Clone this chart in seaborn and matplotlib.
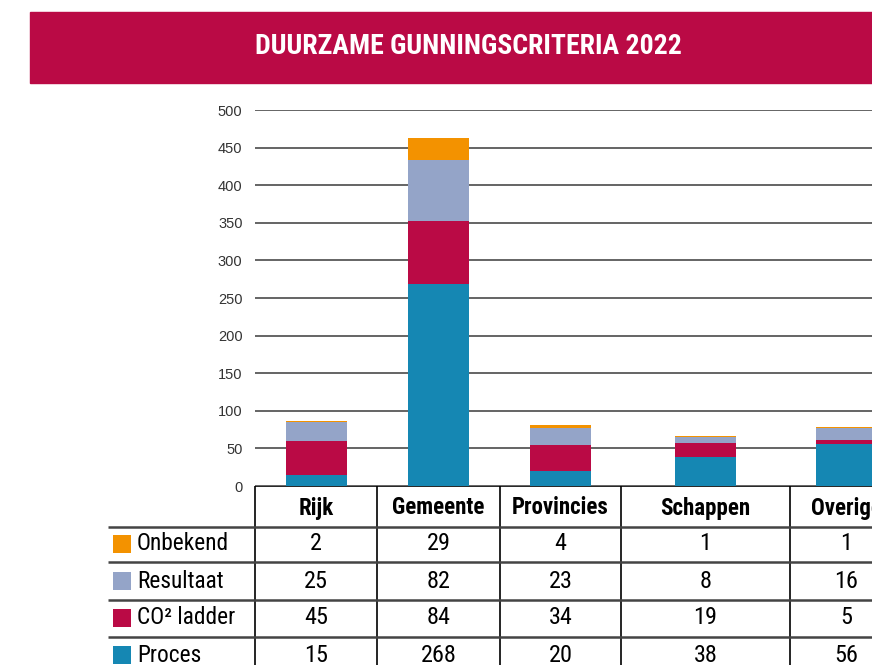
import matplotlib
matplotlib.use("Agg")
import matplotlib.pyplot as plt
from matplotlib.patches import Rectangle
import seaborn as sns

# data
categories = ["Rijk", "Gemeente", "Provincies", "Schappen", "Overige"]
series_names = ["Onbekend", "Resultaat", "CO² ladder", "Proces"]
onbekend = [2, 29, 4, 1, 1]
resultaat = [25, 82, 23, 8, 16]
co2_ladder = [45, 84, 34, 19, 5]
proces = [15, 268, 20, 38, 56]
y_ticks = [0, 50, 100, 150, 200, 250, 300, 350, 400, 450, 500]

colors = ["#F39200", "#94A4C8", "#BA0A45", "#1587B3"]
crimson = "#BA0A45"

W, H = 872, 665
sns.set_theme(style="white")
cond = ['Roboto Condensed', 'Asap Condensed', 'DejaVu Sans']
plt.rcParams['font.family'] = cond

fig = plt.figure(figsize=(W / 100, H / 100), dpi=100)

# title banner
fig.patches.append(Rectangle((30 / W, (H - 83) / H), (W - 30) / W, 71 / H,
                             transform=fig.transFigure, color=crimson, zorder=0))
fig.text(468 / W, (H - 47) / H, "DUURZAME GUNNINGSCRITERIA 2022", color="white",
         fontsize=20, fontweight="bold", ha="center", va="center")

# table column edges (pixels)
col_edges = [255, 377, 500, 621, 790, 902]
col_centers = [(a + b) / 2 for a, b in zip(col_edges[:-1], col_edges[1:])]
top, bottom_px = 110, 486

# bars
ax = fig.add_axes([255 / W, (H - bottom_px) / H, (W - 255) / W, (bottom_px - top) / H])
stacks = [proces]
for s in [co2_ladder, resultaat, onbekend]:
    stacks.append([a + b for a, b in zip(stacks[-1], s)])
# tallest first, so the lower parts are drawn over it
for vals, c in zip(stacks[::-1], colors):
    sns.barplot(x=col_centers, y=vals, native_scale=True, width=0.5, color=c,
                saturation=1, errorbar=None, linewidth=0, ax=ax)

ax.set_xlim(255, W)
ax.set_ylim(0, 500)
ax.set_yticks(y_ticks)
ax.set_xticks([])
ax.set_xlabel("")
ax.set_ylabel("")
ax.yaxis.grid(True, color="#3a3a3a", lw=1.1)
ax.set_axisbelow(True)
for sp in ax.spines.values():
    sp.set_visible(False)
ax.tick_params(axis="y", length=0, pad=9, labelsize=10.5, labelcolor="#333333")
for lbl in ax.get_yticklabels():
    lbl.set_fontfamily(["Liberation Sans", "DejaVu Sans"])

# table
tax = fig.add_axes([0, 0, 1, (H - bottom_px) / H])
tax.set_xlim(0, W)
tax.set_ylim(H, bottom_px)
tax.axis("off")

row_lines = [527, 562, 600, 637]
row_centers = [544, 581, 618, 655]
tax.hlines(bottom_px, 255, W, color="black", lw=1.2)
tax.vlines(col_edges[:-1], bottom_px, H, color="black", lw=1.2)
tax.hlines(row_lines, 108, W, color="#444444", lw=1.8)

for cx, name in zip(col_centers, categories):
    tax.text(cx, 508, name, ha="center", va="center", fontsize=16.5,
             fontweight="bold", color="black")

table_rows = [onbekend, resultaat, co2_ladder, proces]
for yc, name, c, vals in zip(row_centers, series_names, colors, table_rows):
    tax.add_patch(Rectangle((113, yc - 9), 18, 18, color=c, lw=0))
    tax.text(137, yc, name, ha="left", va="center", fontsize=16.8, color="black")
    for cx, v in zip(col_centers, vals):
        tax.text(cx, yc, str(v), ha="center", va="center", fontsize=17.5, color="black")

fig.savefig("out.png", dpi=100)
